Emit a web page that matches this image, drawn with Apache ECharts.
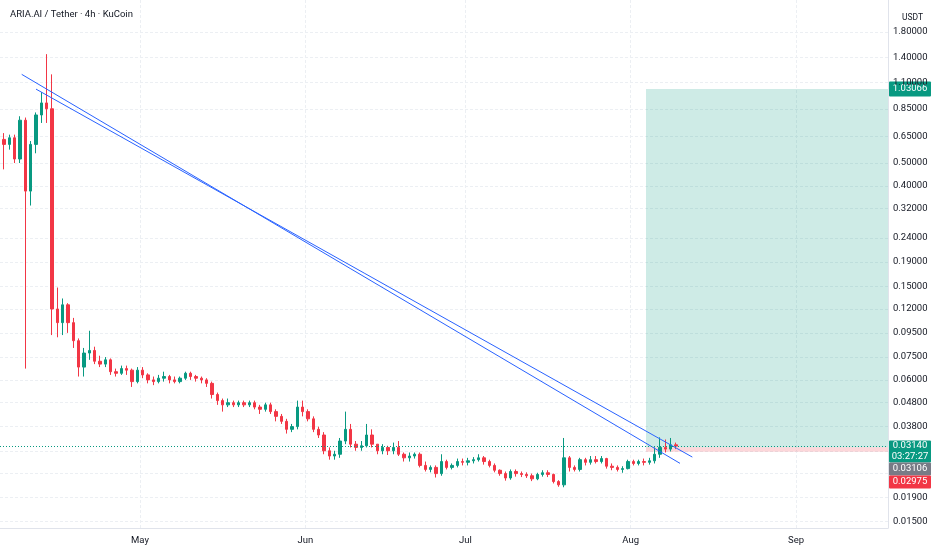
<!DOCTYPE html>
<html><head><meta charset="utf-8">
<script src="https://cdn.jsdelivr.net/npm/echarts@6/dist/echarts.min.js"></script>
<style>html,body{margin:0;padding:0;background:#fff}#c{width:932px;height:550px}</style>
</head><body><div id="c"></div>
<script>
// ---- data (daily candles from 2025-04-05) ----
const firstDay = [2025, 4, 5];
const opens = [0.63,0.60,0.64,0.52,0.76,0.38,0.60,0.80,0.90,0.85,0.12,0.105,0.125,0.105,0.088,0.068,0.078,0.080,0.072,0.070,0.073,0.065,0.064,0.067,0.066,0.059,
0.066,0.063,0.060,0.059,0.061,0.062,0.060,0.059,0.061,0.064,0.062,0.061,0.060,0.058,0.052,0.049,0.047,0.048,0.047,0.048,0.047,0.048,0.046,0.045,0.047,0.044,0.042,0.040,0.037,0.038,0.046,
0.044,0.041,0.037,0.035,0.030,0.0285,0.029,0.033,0.037,0.032,0.031,0.0315,0.035,0.032,0.030,0.031,0.030,0.031,0.029,0.028,0.0285,0.029,0.026,0.025,0.0255,0.024,0.027,0.0255,0.026,0.027,
0.0268,0.0272,0.0275,0.028,0.027,0.026,0.0248,0.024,0.023,0.0245,0.024,0.0238,0.0235,0.0228,0.0238,0.0242,0.0238,0.0222,0.0215,0.028,0.0255,0.025,0.0275,0.0268,0.0275,0.027,0.0278,0.0258,0.0255,0.025,0.0252,
0.027,0.0265,0.027,0.0268,0.0272,0.029,0.031,0.0305,0.0318];
const closes = [0.60,0.64,0.52,0.76,0.38,0.60,0.80,0.90,0.85,0.12,0.105,0.125,0.105,0.088,0.068,0.078,0.080,0.072,0.070,0.073,0.065,0.064,0.067,0.066,0.059,0.066,
0.063,0.060,0.059,0.061,0.062,0.060,0.059,0.061,0.064,0.062,0.061,0.060,0.058,0.052,0.049,0.047,0.048,0.047,0.048,0.047,0.048,0.046,0.045,0.047,0.044,0.042,0.040,0.037,0.038,0.046,0.044,
0.041,0.037,0.035,0.030,0.0285,0.029,0.033,0.037,0.032,0.031,0.0315,0.035,0.032,0.030,0.031,0.030,0.031,0.029,0.028,0.0285,0.029,0.026,0.025,0.0255,0.024,0.027,0.0255,0.026,0.027,0.0268,
0.0272,0.0275,0.028,0.027,0.026,0.0248,0.024,0.023,0.0245,0.024,0.0238,0.0235,0.0228,0.0238,0.0242,0.0238,0.0222,0.0215,0.028,0.0255,0.025,0.0275,0.0268,0.0275,0.027,0.0278,0.0258,0.0255,0.025,0.0252,0.027,
0.0265,0.027,0.0268,0.0272,0.029,0.031,0.0305,0.0318,0.0314];
const lows = [0.47,0.57,0.50,0.50,0.067,0.33,0.55,0.74,0.74,0.093,0.091,0.093,0.095,0.082,0.062,0.062,0.073,0.070,0.068,0.068,0.063,0.062,0.063,0.063,0.056,0.058,
0.061,0.058,0.057,0.058,0.059,0.058,0.058,0.058,0.060,0.060,0.059,0.058,0.056,0.050,0.047,0.044,0.046,0.046,0.046,0.046,0.046,0.045,0.043,0.044,0.043,0.040,0.039,0.0355,0.036,0.037,0.042,
0.040,0.036,0.034,0.029,0.0275,0.0275,0.028,0.032,0.031,0.030,0.030,0.031,0.031,0.029,0.029,0.0288,0.029,0.0285,0.027,0.027,0.0278,0.0255,0.0245,0.0243,0.0231,0.0235,0.025,0.025,0.0255,0.026,
0.026,0.0265,0.027,0.0262,0.0255,0.0243,0.0235,0.0224,0.0226,0.0233,0.0232,0.023,0.0223,0.0225,0.0233,0.0232,0.0218,0.0211,0.021,0.0245,0.0245,0.0245,0.026,0.0262,0.0265,0.0265,0.0252,0.0248,0.0245,0.0242,0.025,
0.026,0.026,0.026,0.0262,0.0265,0.028,0.0295,0.0298,0.0305];
const highs = [0.67,0.66,0.66,0.79,0.78,0.62,0.82,1.00,1.45,1.19,0.148,0.133,0.127,0.11,0.09,0.082,0.097,0.083,0.076,0.075,0.074,0.067,0.069,0.069,0.067,0.068,
0.068,0.064,0.062,0.063,0.065,0.063,0.062,0.062,0.065,0.065,0.063,0.062,0.061,0.059,0.053,0.050,0.050,0.049,0.049,0.049,0.049,0.049,0.047,0.048,0.048,0.045,0.043,0.041,0.039,0.049,0.049,
0.045,0.042,0.038,0.036,0.031,0.030,0.034,0.044,0.039,0.033,0.033,0.039,0.037,0.032,0.032,0.0315,0.0325,0.033,0.0295,0.0295,0.0295,0.0295,0.027,0.026,0.026,0.029,0.0275,0.0265,0.0278,0.0278,
0.028,0.0282,0.029,0.0285,0.0275,0.0265,0.025,0.0245,0.025,0.025,0.0245,0.0243,0.024,0.0242,0.0248,0.0248,0.024,0.0225,0.034,0.0285,0.026,0.028,0.028,0.0285,0.0285,0.0285,0.028,0.0265,0.026,0.0258,0.0275,
0.0275,0.0275,0.0278,0.028,0.031,0.0342,0.0335,0.034,0.0325];

const monthTicks = ['2025-05-01','2025-06-01','2025-07-01','2025-08-01','2025-09-01'];
const monthNames = ['Jan','Feb','Mar','Apr','May','Jun','Jul','Aug','Sep','Oct','Nov','Dec'];
const priceGrid = [1.8,1.4,1.1,0.85,0.65,0.5,0.4,0.32,0.24,0.19,0.15,0.12,0.095,0.075,0.06,0.048,0.038,0.030,0.024,0.019,0.015];
const priceLabels = [1.8,1.4,1.1,0.85,0.65,0.5,0.4,0.32,0.24,0.19,0.15,0.12,0.095,0.075,0.06,0.048,0.038,0.019,0.015];

const trendLineA = [['2025-04-08 19:40', 1.19], ['2025-08-10 06:00', 0.02653]];
const trendLineB = [['2025-04-11 12:00', 1.03], ['2025-08-12 13:30', 0.02821]];

const positionStart = '2025-08-03 21:00';
const targetPrice = 1.03066;
const entryPrice = 0.03106;
const stopPrice = 0.02975;
const lastPrice = 0.03140;
const countdown = '03:27:27';

const xRange = ['2025-04-04 18:00', '2025-09-18 06:00'];
const yRange = [0.0141, 2.462];

const titleText = 'ARIA.AI / Tether · 4h · KuCoin';
const unitText = 'USDT';

// ---- helpers ----
function t(s) {
  const parts = s.split(' ');
  const d = parts[0].split('-').map(Number);
  const h = (parts[1] || '00:00').split(':').map(Number);
  return new Date(d[0], d[1] - 1, d[2], h[0], h[1]).getTime();
}
const L = Math.log;
const UP = '#089981', DOWN = '#F23645';
const FONT = 'Roboto, "Liberation Sans", sans-serif';

const candleData = opens.map((o, i) => [
  new Date(firstDay[0], firstDay[1] - 1, firstDay[2] + i, 12).getTime(),
  L(o), L(closes[i]), L(lows[i]), L(highs[i])
]);
const toLine = arr => arr.map(p => [t(p[0]), L(p[1])]);

const chart = echarts.init(document.getElementById('c'));
const option = {
  animation: false,
  backgroundColor: '#ffffff',
  title: [
    { text: titleText, left: 5, top: 5, textStyle: { fontSize: 9.5, fontWeight: 'normal', color: '#131722', fontFamily: FONT } },
    { text: unitText, left: 897, top: 8, textStyle: { fontSize: 8.5, fontWeight: 'normal', color: '#131722', fontFamily: FONT } }
  ],
  grid: { left: 0, right: 44, top: 0, bottom: 22, containLabel: false },
  xAxis: {
    type: 'value',
    min: t(xRange[0]), max: t(xRange[1]),
    axisLine: { show: true, onZero: false, lineStyle: { color: '#e0e3eb', width: 1 } },
    axisTick: { show: false, customValues: monthTicks.map(s => t(s)) },
    axisLabel: {
      customValues: monthTicks.map(s => t(s)),
      formatter: v => monthNames[new Date(v).getMonth()],
      color: '#131722', fontSize: 9.5, fontFamily: FONT, margin: 8
    },
    splitLine: { show: true, lineStyle: { color: '#eceff3', width: 1, type: [3, 2] } }
  },
  yAxis: {
    type: 'value',
    position: 'right',
    min: L(yRange[0]), max: L(yRange[1]),
    axisLine: { show: true, onZero: false, lineStyle: { color: '#e0e3eb', width: 1 } },
    axisTick: { show: false, customValues: priceGrid.map(L) },
    axisLabel: {
      customValues: priceLabels.map(L),
      formatter: v => Math.exp(v).toFixed(5),
      color: '#131722', fontSize: 9.5, fontFamily: FONT, margin: 5
    },
    splitLine: { show: true, lineStyle: { color: '#eceff3', width: 1, type: [3, 2] } }
  },
  series: [
    {
      type: 'line', data: [], z: 1, silent: true,
      markArea: {
        silent: true,
        data: [
          [{ xAxis: t(positionStart), yAxis: L(entryPrice), itemStyle: { color: 'rgba(8,153,129,0.2)' } },
           { xAxis: t(xRange[1]), yAxis: L(targetPrice) }],
          [{ xAxis: t(positionStart), yAxis: L(stopPrice), itemStyle: { color: 'rgba(242,54,69,0.2)' } },
           { xAxis: t(xRange[1]), yAxis: L(entryPrice) }]
        ]
      },
      markLine: {
        silent: true, symbol: 'none', label: { show: false },
        lineStyle: { color: UP, type: [1, 2], width: 1 },
        data: [{ yAxis: L(lastPrice) }]
      }
    },
    {
      type: 'candlestick', z: 3,
      data: candleData,
      encode: { x: 0, y: [1, 2, 3, 4] },
      barWidth: 2.6,
      itemStyle: { color: UP, color0: DOWN, borderColor: UP, borderColor0: DOWN, borderWidth: 1 }
    },
    {
      type: 'line', z: 4, data: toLine(trendLineA), symbol: 'none',
      lineStyle: { color: '#2962FF', width: 1 }
    },
    {
      type: 'line', z: 4, data: toLine(trendLineB), symbol: 'none',
      lineStyle: { color: '#2962FF', width: 1 }
    }
  ]
};
chart.setOption(option);

// ---- price scale tags, positioned via the chart's own y scale ----
const yOf = p => chart.convertToPixel({ yAxisIndex: 0 }, L(p));
const tagX = 889, tagW = 42;
function tag(y, h, fill, lines) {
  const children = [{ type: 'rect', shape: { x: tagX, y: y, width: tagW, height: h, r: 1 }, style: { fill: fill } }];
  const step = h / lines.length;
  lines.forEach((s, i) => children.push({
    type: 'text', x: tagX + tagW / 2, y: y + step * i + step / 2,
    style: { text: s, fill: '#ffffff', fontSize: 9.5, fontFamily: FONT, align: 'center', verticalAlign: 'middle' }
  }));
  return { type: 'group', z: 100, children: children };
}
const yT = yOf(targetPrice);
const yL = yOf(lastPrice);
chart.setOption({
  graphic: [
    tag(yT - 7.5, 15, UP, [targetPrice.toFixed(5)]),
    tag(yL - 5.5, 22, UP, [lastPrice.toFixed(5), countdown]),
    tag(yL + 16.5, 13, '#787b86', [entryPrice.toFixed(5)]),
    tag(yL + 29.5, 13, DOWN, [stopPrice.toFixed(5)])
  ]
});
</script>
</body></html>
